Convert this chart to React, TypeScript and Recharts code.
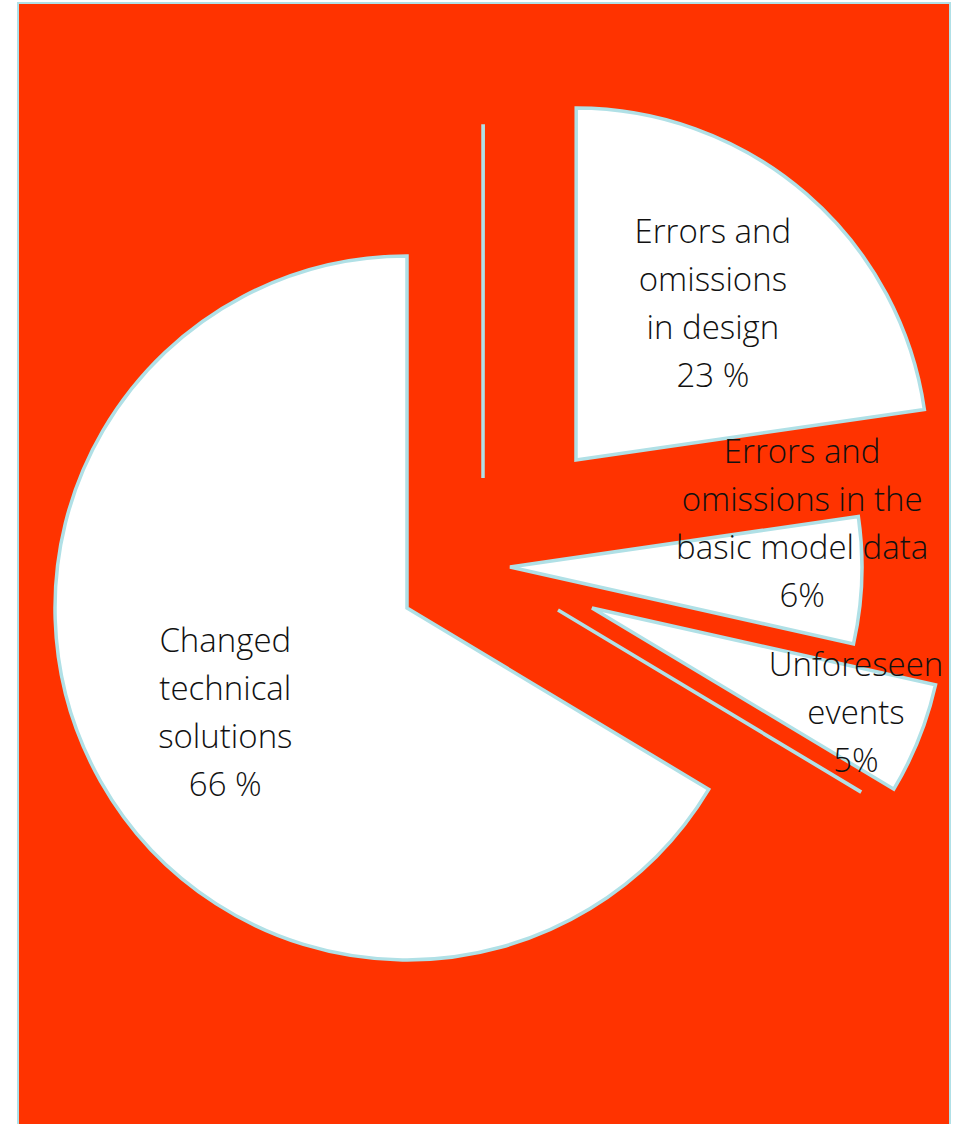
import React from 'react';
import { PieChart, Pie, Cell } from 'recharts';

// ---- data ----
const categories = [
  '',
  'Errors and omissions in design',
  'Errors and omissions in the basic model data',
  'Unforeseen events',
  '',
  'Changed technical solutions',
];
const values = [0.01, 22.7, 5.8, 5.1, 0.01, 66.4];
const labelLines: string[][] = [
  [],
  ['Errors and', 'omissions', 'in design', '23 %'],
  ['Errors and', 'omissions in the', 'basic model data', '6%'],
  ['Unforeseen', 'events', '5%'],
  [],
  ['Changed', 'technical', 'solutions', '66 %'],
];

// ---- layout (exploded slice centres, label placement) ----
const sliceCenters = [
  [483, 478],
  [576, 460],
  [510, 567],
  [592, 608],
  [558, 610],
  [407, 608],
];
const labelPlacement = [
  [0, 0],
  [0.594, 0],
  [0.84, 11],
  [0.805, 0.5],
  [0, 0],
  [0.593, 0],
];
const drawOrder = [0, 4, 5, 1, 2, 3];

const data = categories.map((name, i) => ({ name, value: values[i] }));

const RADIUS = 352;
const STROKE = '#B0E0E6';
const LINE_H = 48;

const makeLabel = (sel: number) => (props: any) => {
  const { index, cx, cy, midAngle, outerRadius } = props;
  if (index !== sel) return null;
  const lines = labelLines[index];
  if (!lines.length) return null;
  const [f, off] = labelPlacement[index];
  const a = ((midAngle + off) * Math.PI) / 180;
  const x = cx + outerRadius * f * Math.cos(a);
  const y = cy - outerRadius * f * Math.sin(a);
  const y0 = y - ((lines.length - 1) / 2) * LINE_H;
  return (
    <text
      key={`lbl-${index}`}
      x={x}
      y={y0}
      textAnchor="middle"
      dominantBaseline="central"
      fill="#111"
      style={{ fontFamily: '"Open Sans", "Noto Sans", sans-serif', fontWeight: 300, fontSize: 33 }}
    >
      {lines.map((l, k) => (
        <tspan key={k} x={x} y={y0 + k * LINE_H}>
          {l}
        </tspan>
      ))}
    </text>
  );
};

export default function App() {
  return (
    <div style={{ position: 'absolute', left: 0, top: 0, width: 961, height: 1124, overflow: 'hidden' }}>
      <div
        style={{
          position: 'absolute',
          left: 17,
          top: 2,
          width: 934,
          height: 1122,
          boxSizing: 'border-box',
          background: '#FF3300',
          border: `2px solid ${STROKE}`,
          borderBottom: 'none',
        }}
      />
      <div style={{ position: 'absolute', left: 0, top: 0 }}>
        <PieChart width={961} height={1124} margin={{ top: 0, right: 0, bottom: 0, left: 0 }}>
          {drawOrder.map((sel) => (
            <Pie
              key={`pie-${sel}`}
              data={data}
              dataKey="value"
              nameKey="name"
              cx={sliceCenters[sel][0]}
              cy={sliceCenters[sel][1]}
              outerRadius={RADIUS}
              innerRadius={0}
              startAngle={90}
              endAngle={-270}
              isAnimationActive={false}
              labelLine={false}
              label={makeLabel(sel)}
            >
              {data.map((_, i) => (
                <Cell
                  key={`c-${i}`}
                  fill={i === sel ? '#FFFFFF' : 'none'}
                  stroke={i === sel ? STROKE : 'none'}
                  strokeWidth={3.5}
                />
              ))}
            </Pie>
          ))}
        </PieChart>
      </div>
    </div>
  );
}
